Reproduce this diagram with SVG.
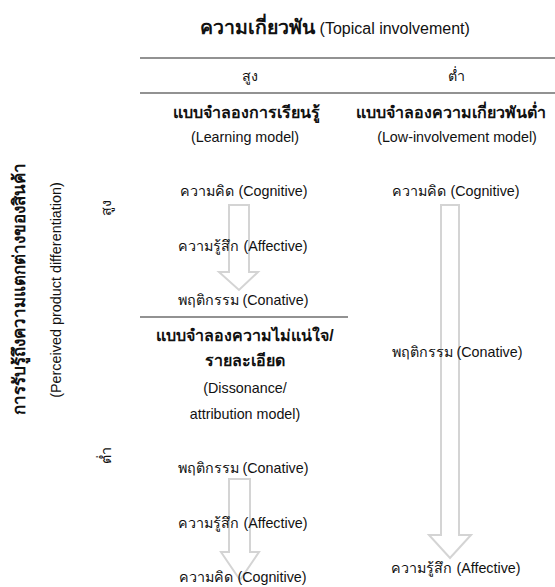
<svg xmlns="http://www.w3.org/2000/svg" width="555" height="587" viewBox="0 0 555 587">
  <style>
    text { font-family: "Liberation Sans", Arial, sans-serif; fill: #111; text-anchor: middle; }
    .t { font-size: 14.3px; }
    .b { font-size: 16px; font-weight: bold; }
    .h { font-size: 19.5px; font-weight: bold; }
    .hs { font-size: 16px; }
    .vb { font-size: 17px; font-weight: bold; }
    .vt { font-size: 14.4px; }
    .rule { stroke: #6e6e6e; stroke-width: 1.5; fill: none; }
    .flow { fill: #ffffff; stroke: #d4d4d4; stroke-width: 2; stroke-linejoin: miter; }
  </style>

  <rect width="555" height="587" fill="#ffffff"/>

  <!-- column header -->
  <g id="header">
    <text x="335" y="34"><tspan class="h">ความเกี่ยวพัน</tspan><tspan class="hs"> (Topical involvement)</tspan></text>
    <line class="rule" x1="140" y1="58" x2="555" y2="58"/>
    <text class="t" x="250" y="81">สูง</text>
    <text class="t" x="456" y="81">ต่ำ</text>
    <line class="rule" x1="140" y1="93" x2="555" y2="93"/>
  </g>

  <!-- row axis -->
  <g id="row-axis">
    <text class="vb" transform="translate(25 289) rotate(-90)">การรับรู้ถึงความแตกต่างของสินค้า</text>
    <text class="vt" transform="translate(61 290) rotate(-90)">(Perceived product differentiation)</text>
    <text class="t" transform="translate(111 208) rotate(-90)">สูง</text>
    <text class="t" transform="translate(111 455) rotate(-90)">ต่ำ</text>
  </g>

  <!-- arrows drawn first so the labels sit on top -->
  <g id="connectors">
    <path class="flow" d="M229 205 H249 V272 H258 L239 290 L219 272 H229 Z"/>
    <path class="flow" d="M229 479 H250 V552 H259 L240 580 L221 552 H229 Z"/>
    <path class="flow" d="M441 205 H459 V535 H471 L450 558 L429 535 H441 Z"/>
  </g>

  <g id="learning-model">
    <text class="b" x="246" y="118">แบบจำลองการเรียนรู้</text>
    <text class="t" x="245" y="142">(Learning model)</text>
  </g>
  <g id="low-involvement-model">
    <text class="b" x="451" y="118">แบบจำลองความเกี่ยวพันต่ำ</text>
    <text class="t" x="457" y="142">(Low-involvement model)</text>
  </g>

  <g id="learning-cognitive"><text class="t" x="244" y="196">ความคิด (Cognitive)</text></g>
  <g id="learning-affective"><text class="t" x="243" y="251">ความรู้สึก (Affective)</text></g>
  <g id="learning-conative"><text class="t" x="243" y="305">พฤติกรรม (Conative)</text></g>

  <line class="rule" x1="140" y1="317" x2="348" y2="317"/>

  <g id="dissonance-model">
    <text class="b" x="245" y="341">แบบจำลองความไม่แน่ใจ/</text>
    <text class="b" x="245" y="366">รายละเอียด</text>
    <text class="t" x="245" y="393">(Dissonance/</text>
    <text class="t" x="245" y="419">attribution model)</text>
  </g>

  <g id="dissonance-conative"><text class="t" x="243" y="473">พฤติกรรม (Conative)</text></g>
  <g id="dissonance-affective"><text class="t" x="243" y="528">ความรู้สึก (Affective)</text></g>
  <g id="dissonance-cognitive"><text class="t" x="243" y="582">ความคิด (Cognitive)</text></g>

  <g id="low-cognitive"><text class="t" x="456" y="196">ความคิด (Cognitive)</text></g>
  <g id="low-conative"><text class="t" x="457" y="357">พฤติกรรม (Conative)</text></g>
  <g id="low-affective"><text class="t" x="456" y="573">ความรู้สึก (Affective)</text></g>
</svg>
